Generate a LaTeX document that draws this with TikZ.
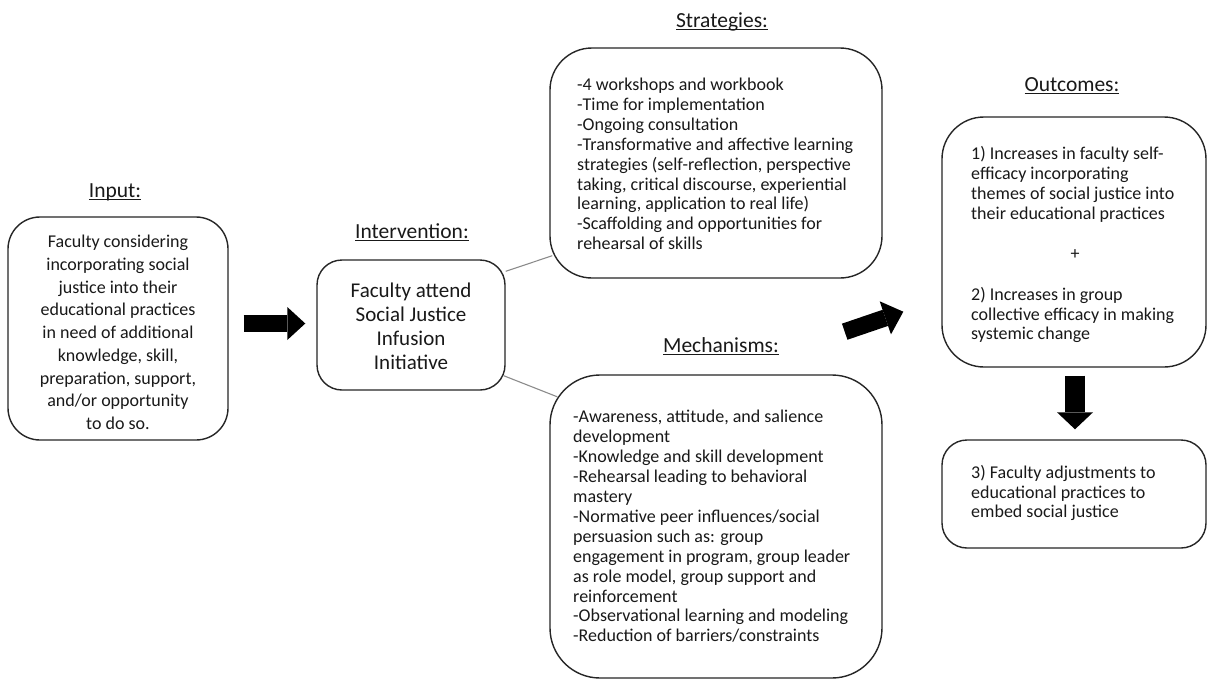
\documentclass[tikz,border=0pt]{standalone}
\usepackage{fontspec}
\setmainfont{Carlito}
\usetikzlibrary{calc,arrows.meta}
\newcommand\ttlul[1]{\setbox0\hbox{#1}\rlap{\rule[-3.2pt]{\wd0}{1.1pt}}\box0}
\begin{document}
\begin{tikzpicture}[x=1pt,y=-1pt,
  box/.style={draw=black!85, line width=1.4pt, rounded corners=#1, inner sep=0pt},
  ttl/.style={font=\fontsize{21.5}{24}\selectfont, anchor=base, inner sep=0pt, text=black!90},
  body/.style={font=\fontsize{18}{19.9}\selectfont, align=left, anchor=west, inner sep=0pt, text=black!90},
  link/.style={draw=black!45, line width=1.1pt},
  blockarrow/.style={draw=black, line width=#1}
]
\fill[white] (0,0) rectangle (1208,681);
\useasboundingbox (0,0) rectangle (1208,681);

% titles
\node[ttl] (tinput) at (115,197) {\ttlul{Input:}};
\node[ttl] (tinterv) at (412,238) {\ttlul{Intervention:}};
\node[ttl] (tstrat) at (722,27) {\ttlul{Strategies:}};
\node[ttl] (tmech) at (721,352) {\ttlul{Mechanisms:}};
\node[ttl] (tout) at (1072,91) {\ttlul{Outcomes:}};

% boxes
\node[box=32pt, minimum width=220pt, minimum height=223pt] (inbox) at (118,328.5) {};
\node[box=25pt, minimum width=188pt, minimum height=130pt] (intbox) at (411,325) {};
\node[box=42pt, minimum width=332pt, minimum height=230pt] (strbox) at (716,163) {};
\node[box=50pt, minimum width=332pt, minimum height=303pt] (mechbox) at (716,526.5) {};
\node[box=42pt, minimum width=264pt, minimum height=250pt] (out1) at (1074,242) {};
\node[box=25pt, minimum width=264pt, minimum height=108pt] (out3) at (1074,494) {};

% texts
\node[font=\fontsize{18}{22.7}\selectfont, align=center, inner sep=0pt, text=black!90] (intext) at (118,332.5)
  {Faculty considering\\incorporating social\\justice into their\\educational practices\\in need of additional\\knowledge, skill,\\preparation, support,\\and/or opportunity\\to do so.};
\node[font=\fontsize{21}{24}\selectfont, align=center, inner sep=0pt, text=black!90] (inttext) at (411,326.5)
  {Faculty attend\\Social Justice\\Infusion\\Initiative};
\node[body] (strtext) at (577,164)
  {-4 workshops and workbook\\-Time for implementation\\-Ongoing consultation\\-Transformative and affective learning\\strategies (self-reflection, perspective\\taking, critical discourse, experiential\\learning, application to real life)\\-Scaffolding and opportunities for\\rehearsal of skills};
\node[body] (mechtext) at (573,526.5)
  {-Awareness, attitude, and salience\\development\\-Knowledge and skill development\\-Rehearsal leading to behavioral\\mastery\\-Normative peer influences/social\\persuasion such as: group\\engagement in program, group leader\\as role model, group support and\\reinforcement\\-Observational learning and modeling\\-Reduction of barriers/constraints};
\node[body] (out1a) at (971,184.5)
  {1) Increases in faculty self-\\efficacy incorporating\\themes of social justice into\\their educational practices};
\node[body, anchor=center] (plus) at (1075,255) {+};
\node[body] (out1b) at (971,315)
  {2) Increases in group\\collective efficacy in making\\systemic change};
\node[body] (out3text) at (971,493)
  {3) Faculty adjustments to\\educational practices to\\embed social justice};

% thin connectors
\draw[link] ([yshift=-12pt]intbox.north east) -- ([xshift=3pt,yshift=23pt]strbox.south west);
\draw[link] ([xshift=-2pt,yshift=15pt]intbox.south east) -- ([xshift=8pt,yshift=-22.5pt]mechbox.north west);

% block arrows
\draw[blockarrow=17pt, -{Triangle[width=33pt,length=18pt,line width=0pt]}]
  ($(inbox.east)+(15,-5)$) -- ($(intbox.west)+(-11,-1.5)$);
\draw[blockarrow=17pt, -{Triangle[width=35pt,length=19pt,line width=0pt]}]
  ($(strbox.south east)+(-38,53)$) -- ($(out1.west)+(-38,69.7)$);
\draw[blockarrow=20pt, -{Triangle[width=36pt,length=17pt,line width=0pt]}]
  ($(out1.south)+(1,8)$) -- ($(out3.north)+(1,-10)$);
\end{tikzpicture}
\end{document}
